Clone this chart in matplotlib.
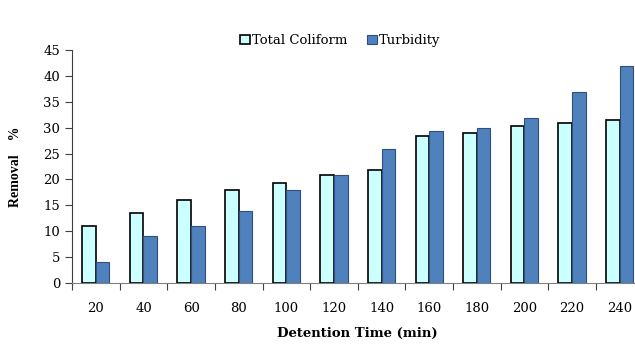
import matplotlib.pyplot as plt
import numpy as np

# detention time categories and removal percentages
times = ["20", "40", "60", "80", "100", "120", "140", "160", "180", "200", "220", "240"]
coliform = [11, 13.5, 16, 18, 19.3, 20.8, 21.8, 28.3, 28.9, 30.4, 30.9, 31.4]
turbidity = [4, 9, 11, 14, 18, 20.9, 25.9, 29.4, 29.9, 31.9, 36.9, 42]

serif = ["DejaVu Serif"]
times_font = ["Liberation Serif", "DejaVu Serif"]

fig = plt.figure(figsize=(6.35, 3.47), dpi=100)
ax = fig.add_axes([0.1134, 0.1844, 0.90, 0.6715])

x = np.arange(len(times)) + 0.5
w = 0.285
ax.bar(x - w / 2, coliform, w, color="#CCFFFF", edgecolor="black", linewidth=1.2,
       label="Total Coliform", zorder=3)
ax.bar(x + w / 2, turbidity, w, color="#4F81BD", edgecolor="#2F4F7F", linewidth=0.8,
       label="Turbidity", zorder=3)

ax.set_xlim(0, len(times))
ax.set_ylim(0, 45)
ax.set_yticks(range(0, 46, 5))
ax.set_xticks(np.arange(0, len(times) + 1), minor=False)
ax.set_xticklabels([])
ax.set_xticks(x, minor=True)
ax.set_xticklabels(times, minor=True, fontfamily=serif, fontsize=9.5)
ax.tick_params(axis="x", which="major", length=5, color="#404040", direction="out")
ax.tick_params(axis="x", which="minor", length=0, pad=14)
ax.tick_params(axis="y", length=5, color="#404040", labelsize=9.5)
for lab in ax.get_yticklabels():
    lab.set_fontfamily(serif)

for s in ["top", "right"]:
    ax.spines[s].set_visible(False)
ax.spines["left"].set_color("#404040")
ax.spines["bottom"].set_color("#808080")

ax.set_ylabel("Removal    %", fontfamily=times_font, fontweight="bold", fontsize=10, labelpad=15)
ax.set_xlabel("Detention Time (min)", fontfamily=serif, fontweight="bold",
              fontsize=9.5, labelpad=8)

leg = ax.legend(loc="center", bbox_to_anchor=(0.47, 1.04), ncol=2, frameon=False,
                prop={"family": serif, "size": 9.5}, handlelength=0.7, handleheight=0.7,
                handletextpad=0.2, columnspacing=1.5)

plt.savefig("out.png", dpi=100)
